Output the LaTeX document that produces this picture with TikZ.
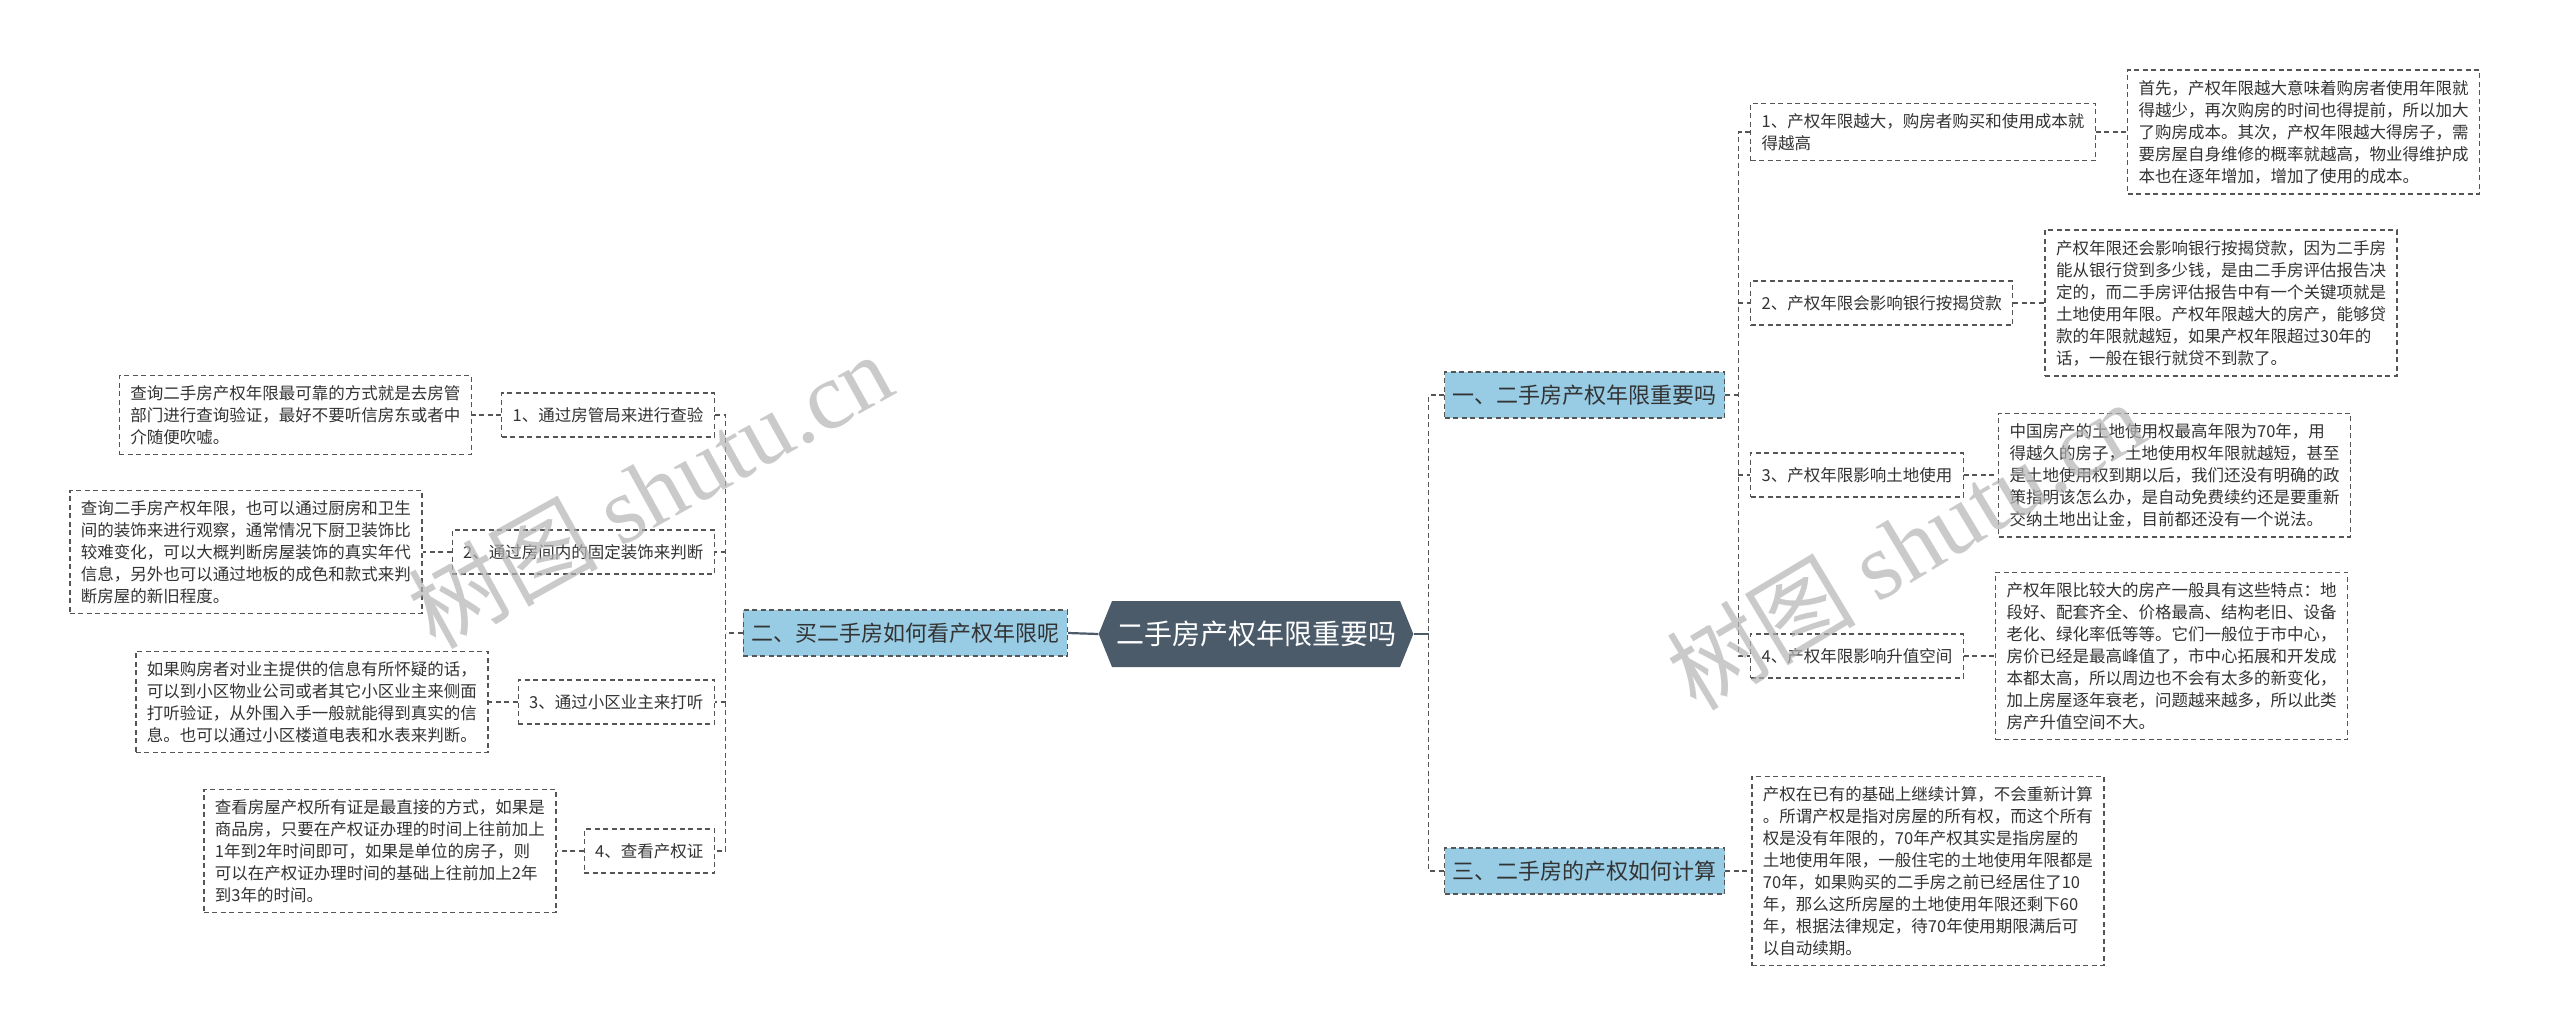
\documentclass[tikz,border=0pt]{standalone}
\usepackage{fontspec}
\setmainfont{Noto Sans CJK SC}
\newfontfamily\wmlatin{Liberation Serif}
\usetikzlibrary{shapes.symbols, positioning, calc}
\definecolor{rootslate}{HTML}{4B5B6A}
\definecolor{branchblue}{HTML}{98CCE5}
\definecolor{edgegray}{HTML}{555555}
\definecolor{textgray}{HTML}{333333}
\definecolor{wmgray}{HTML}{B4B4B4}

\begin{document}
\begin{tikzpicture}[
    x=1pt, y=-1pt,
    node distance=30pt,
    every node/.style={text=textgray},
    rootnode/.style={
      shape=signal, signal to=east and west, signal pointer angle=136,
      fill=rootslate, text=white, inner xsep=4pt,
      minimum height=66pt,
      font=\fontsize{28}{32}\selectfont
    },
    branch/.style={
      rectangle, draw=edgegray, fill=branchblue, line width=1.3pt,
      dash pattern=on 5pt off 3.5pt,
      inner xsep=8pt, minimum height=46pt,
      font=\fontsize{22}{26}\selectfont
    },
    topic/.style={
      rectangle, draw=edgegray, line width=1.3pt,
      dash pattern=on 5pt off 3.5pt,
      inner xsep=11pt, inner ysep=10pt, minimum height=44pt,
      align=left, font=\fontsize{16.5}{22}\selectfont
    },
    leaf/.style={topic},
    link/.style={draw=edgegray, line width=1.3pt, dash pattern=on 5pt off 3.5pt},
    rootlink/.style={draw=rootslate, line width=2.2pt},
    watermark/.style={text=wmgray, opacity=0.7, font=\fontsize{95}{100}\selectfont},
  ]

  \fill[white] (0,0) rectangle (2560,1036);
  \useasboundingbox (0,0) rectangle (2560,1036);

  % --- Root and branches ---
  \node[rootnode] (root) at (1256, 634) {二手房产权年限重要吗};

  \node[branch, anchor=west] (b1) at (1444, 395) {一、二手房产权年限重要吗};
  \node[branch, anchor=east] (b2) at (1068, 633) {二、买二手房如何看产权年限呢};
  \node[branch, anchor=west] (b3) at (1444, 871) {三、二手房的产权如何计算};

  % --- Right side: branch one ---
  \node[topic, anchor=west] (s1) at (1750, 132)
    {1、产权年限越大，购房者购买和使用成本就\\得越高};
  \node[topic, anchor=west] (s2) at (1750, 303) {2、产权年限会影响银行按揭贷款};
  \node[topic, anchor=west] (s3) at (1750, 475) {3、产权年限影响土地使用};
  \node[topic, anchor=west] (s4) at (1750, 656) {4、产权年限影响升值空间};

  \node[leaf, right=31pt of s1] (l1)
    {首先，产权年限越大意味着购房者使用年限就\\
     得越少，再次购房的时间也得提前，所以加大\\
     了购房成本。其次，产权年限越大得房子，需\\
     要房屋自身维修的概率就越高，物业得维护成\\
     本也在逐年增加，增加了使用的成本。};
  \node[leaf, right=31pt of s2] (l2)
    {产权年限还会影响银行按揭贷款，因为二手房\\
     能从银行贷到多少钱，是由二手房评估报告决\\
     定的，而二手房评估报告中有一个关键项就是\\
     土地使用年限。产权年限越大的房产，能够贷\\
     款的年限就越短，如果产权年限超过30年的\\
     话，一般在银行就贷不到款了。};
  \node[leaf, right=34pt of s3] (l3)
    {中国房产的土地使用权最高年限为70年，用\\
     得越久的房子，土地使用权年限就越短，甚至\\
     是土地使用权到期以后，我们还没有明确的政\\
     策指明该怎么办，是自动免费续约还是要重新\\
     交纳土地出让金，目前都还没有一个说法。};
  \node[leaf, right=31pt of s4] (l4)
    {产权年限比较大的房产一般具有这些特点：地\\
     段好、配套齐全、价格最高、结构老旧、设备\\
     老化、绿化率低等等。它们一般位于市中心，\\
     房价已经是最高峰值了，市中心拓展和开发成\\
     本都太高，所以周边也不会有太多的新变化，\\
     加上房屋逐年衰老，问题越来越多，所以此类\\
     房产升值空间不大。};

  % --- Right side: branch three ---
  \node[leaf, right=26pt of b3] (l5)
    {产权在已有的基础上继续计算，不会重新计算\\
     。所谓产权是指对房屋的所有权，而这个所有\\
     权是没有年限的，70年产权其实是指房屋的\\
     土地使用年限，一般住宅的土地使用年限都是\\
     70年，如果购买的二手房之前已经居住了10\\
     年，那么这所房屋的土地使用年限还剩下60\\
     年，根据法律规定，待70年使用期限满后可\\
     以自动续期。};

  % --- Left side: branch two ---
  \node[topic, anchor=east] (t1) at (715, 415) {1、通过房管局来进行查验};
  \node[topic, anchor=east] (t2) at (715, 552) {2、通过房间内的固定装饰来判断};
  \node[topic, anchor=east] (t3) at (715, 702) {3、通过小区业主来打听};
  \node[topic, anchor=east] (t4) at (715, 851) {4、查看产权证};

  \node[leaf, left=29pt of t1] (m1)
    {查询二手房产权年限最可靠的方式就是去房管\\
     部门进行查询验证，最好不要听信房东或者中\\
     介随便吹嘘。};
  \node[leaf, left=29pt of t2] (m2)
    {查询二手房产权年限，也可以通过厨房和卫生\\
     间的装饰来进行观察，通常情况下厨卫装饰比\\
     较难变化，可以大概判断房屋装饰的真实年代\\
     信息，另外也可以通过地板的成色和款式来判\\
     断房屋的新旧程度。};
  \node[leaf, left=29pt of t3] (m3)
    {如果购房者对业主提供的信息有所怀疑的话，\\
     可以到小区物业公司或者其它小区业主来侧面\\
     打听验证，从外围入手一般就能得到真实的信\\
     息。也可以通过小区楼道电表和水表来判断。};
  \node[leaf, left=27pt of t4] (m4)
    {查看房屋产权所有证是最直接的方式，如果是\\
     商品房，只要在产权证办理的时间上往前加上\\
     1年到2年时间即可，如果是单位的房子，则\\
     可以在产权证办理时间的基础上往前加上2年\\
     到3年的时间。};

  % --- Connectors ---
  \coordinate (jR) at ([xshift=15pt]root.east);
  \coordinate (j1) at ([xshift=13pt]b1.east);
  \coordinate (j2) at ([xshift=-17pt]b2.west);

  \draw[rootlink] (root.east) -- (jR);
  \draw[rootlink] (b2.east) -- (root.west);
  \draw[link] (b1.west) -| (jR) |- (b3.west);

  \draw[link] (b1.east) -- (j1);
  \draw[link] (s1.west) -| (j1) |- (s4.west);
  \foreach \i in {2,3}
    \draw[link] (j1 |- s\i.west) -- (s\i.west);
  \foreach \i in {1,...,4}
    \draw[link] (s\i.east) -- (l\i.west);
  \draw[link] (b3.east) -- (l5.west);

  \draw[link] (b2.west) -- (j2);
  \draw[link] (t1.east) -| (j2) |- (t4.east);
  \foreach \i in {2,3}
    \draw[link] (j2 |- t\i.east) -- (t\i.east);
  \foreach \i in {1,...,4}
    \draw[link] (t\i.west) -- (m\i.east);

  % --- Watermarks ---
  \node[watermark, rotate=29] (wm1) at (650, 490) {树图 {\wmlatin shutu.cn}};
  \node[watermark, rotate=31] (wm2) at (1905, 545) {树图 {\wmlatin shutu.cn}};

\end{tikzpicture}
\end{document}
